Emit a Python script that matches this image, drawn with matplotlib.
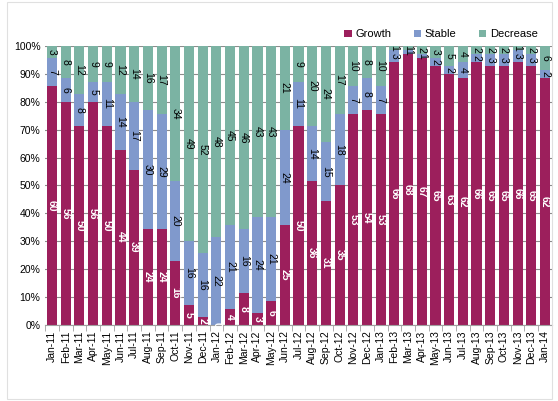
"""
Monthly survey: share of Growth / Stable / Decrease responses (100% stacked bars)
"""
import numpy as np
import matplotlib
matplotlib.use("Agg")
import matplotlib.pyplot as plt
from matplotlib.ticker import PercentFormatter

months = ["Jan-11", "Feb-11", "Mar-11", "Apr-11", "May-11", "Jun-11", "Jul-11",
          "Aug-11", "Sep-11", "Oct-11", "Nov-11", "Dec-11", "Jan-12", "Feb-12",
          "Mar-12", "Apr-12", "May-12", "Jun-12", "Jul-12", "Aug-12", "Sep-12",
          "Oct-12", "Nov-12", "Dec-12", "Jan-13", "Feb-13", "Mar-13", "Apr-13",
          "May-13", "Jun-13", "Jul-13", "Aug-13", "Sep-13", "Oct-13", "Nov-13",
          "Dec-13", "Jan-14"]
growth = [60, 56, 50, 56, 50, 44, 39, 24, 24, 16, 5, 2, 0, 4, 8, 3, 6, 25, 50,
          36, 31, 35, 53, 54, 53, 66, 68, 67, 65, 63, 62, 66, 65, 65, 66, 65, 62]
stable = [7, 6, 8, 5, 11, 14, 17, 30, 29, 20, 16, 16, 22, 21, 16, 24, 21, 24, 11,
          14, 15, 18, 7, 8, 7, 3, 1, 1, 2, 2, 4, 2, 3, 3, 3, 3, 2]
decrease = [3, 8, 12, 9, 9, 12, 14, 16, 17, 34, 49, 52, 48, 45, 46, 43, 43, 21, 9,
            20, 24, 17, 10, 8, 10, 1, 1, 2, 3, 5, 4, 2, 2, 2, 1, 2, 6]

series = [("Growth", growth, "#9c1f5c", "white"),
          ("Stable", stable, "#8099cc", "black"),
          ("Decrease", decrease, "#7bb3a3", "black")]

plt.rcParams["font.family"] = ["Arial", "Liberation Sans", "DejaVu Sans"]

fig = plt.figure(figsize=(5.58, 4.01), dpi=100)
ax = fig.add_axes([0.081, 0.19, 0.908, 0.695])

x = np.arange(len(months))
total = np.array(growth) + np.array(stable) + np.array(decrease)
bottom = np.zeros(len(months))
for name, vals, color, tcol in series:
    vals = np.array(vals, dtype=float)
    share = vals / total
    ax.bar(x, share, 0.74, bottom=bottom, color=color, label=name, zorder=2)
    for xi, b, s, v in zip(x, bottom, share, vals):
        ax.text(xi, b + s / 2, f"{int(v)}", rotation=-90, ha="center",
                va="center", fontsize=7.5, color=tcol,
                fontweight="bold" if tcol == "white" else "normal", zorder=3)
    bottom += share

ax.set_xlim(-0.5, len(months) - 0.5)
ax.set_ylim(0, 1)
ax.yaxis.set_major_formatter(PercentFormatter(1.0, decimals=0))
ax.set_yticks(np.arange(0, 1.01, 0.1))
ax.set_xticks(x)
ax.set_xticklabels(months, rotation=90, fontsize=7.5)
ax.set_xticks(np.arange(-0.5, len(months), 1), minor=True)
ax.tick_params(axis="x", which="major", length=0, pad=4)
ax.tick_params(axis="x", which="minor", length=4, color="#a0a0a0")
ax.tick_params(axis="y", length=0, labelsize=7.5)
ax.grid(axis="y", color="#8c8c8c", linewidth=0.8, zorder=0)
for side in ["top", "right", "left"]:
    ax.spines[side].set_visible(False)
ax.spines["bottom"].set_color("#a0a0a0")

ax.legend(loc="lower right", bbox_to_anchor=(0.985, 1.0), ncol=3, frameon=False,
          fontsize=8, handlelength=0.7, handleheight=0.7, handletextpad=0.3,
          columnspacing=2.0, borderaxespad=0.2)

fig.patches.append(plt.Rectangle((0.012, 0.005), 0.978, 0.99, fill=False,
                                 edgecolor="#e0e0e0", linewidth=0.8,
                                 transform=fig.transFigure))

fig.savefig("out.png", dpi=100)
